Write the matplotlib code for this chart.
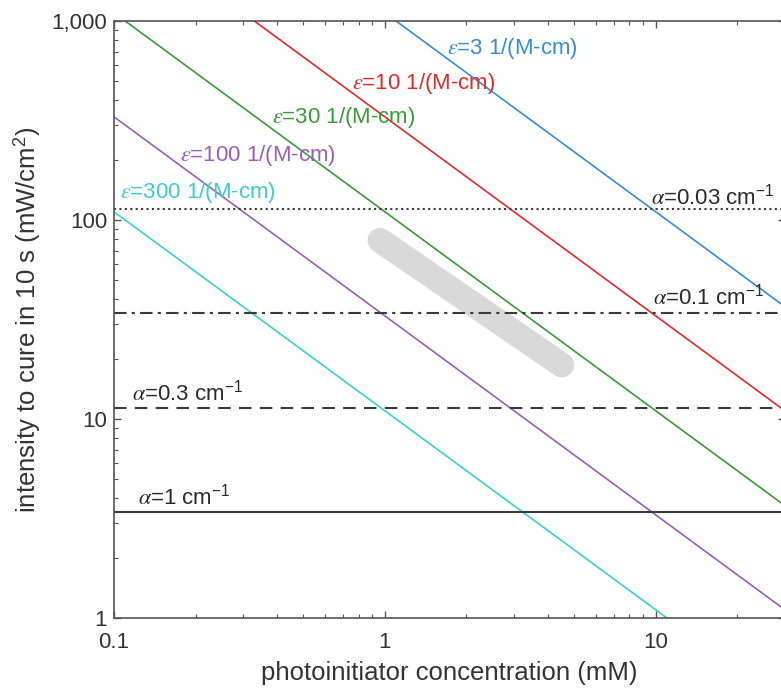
import numpy as np
import matplotlib
matplotlib.use("Agg")
import matplotlib.pyplot as plt
from matplotlib.ticker import FixedLocator, FuncFormatter, LogLocator, NullFormatter

plt.rcParams['font.family'] = ['Liberation Sans', 'DejaVu Sans']
plt.rcParams['mathtext.fontset'] = 'custom'
plt.rcParams['mathtext.rm'] = 'Liberation Sans'
plt.rcParams['mathtext.it'] = 'STIXGeneral:italic'

# diagonal lines: cure intensity at the two ends of the concentration axis
conc_ends = [0.1, 30]
eps_names = ['3', '10', '30', '100', '300']
eps_intensity = [[11000, 36.7], [3300, 11.0], [1100, 3.67], [330, 1.10], [110, 0.367]]
eps_colors = ['#3a8cd2', '#e02a2e', '#3a9a3a', '#9a5fb6', '#3ccfcf']
eps_label_x = [1.69, 0.755, 0.383, 0.175, 0.105]
eps_label_y = [731, 488, 326, 212, 137]

# horizontal lines: absorption coefficient limit
alpha_names = ['0.03', '0.1', '0.3', '1']
alpha_intensity = [113, 34, 11.3, 3.4]
alpha_styles = [(0, (1, 1.6)), (0, (6, 2.5, 1.5, 2.5)), (0, (6, 4)), '-']
alpha_label_x = [9.6, 9.8, 0.1165, 0.1226]
alpha_label_y = [131, 41, 13.5, 4.06]

# grey band (measured range)
band_conc = [0.96, 4.5]
band_intensity = [79, 18.7]

fig = plt.figure(figsize=(7.81, 6.90), dpi=100)
ax = fig.add_axes([0.146, 0.1043, 0.859, 0.8652])
ax.set_xscale('log')
ax.set_yscale('log')
ax.set_xlim(0.1, 30)
ax.set_ylim(1, 1000)

ax.plot(band_conc, band_intensity, color='#d9d9d9', lw=18, solid_capstyle='round', zorder=1)

for name, yy, col, lx, ly in zip(eps_names, eps_intensity, eps_colors, eps_label_x, eps_label_y):
    ax.plot(conc_ends, yy, color=col, lw=1.2, zorder=2)
    ax.text(lx, ly, r'$\epsilon$=' + name + ' 1/(M-cm)', color=col, fontsize=16,
            ha='left', va='center', zorder=3)

for name, yv, ls, lx, ly in zip(alpha_names, alpha_intensity, alpha_styles, alpha_label_x, alpha_label_y):
    ax.plot(conc_ends, [yv, yv], color='#3a3a3a', lw=1.5, linestyle=ls, zorder=2)
    ax.text(lx, ly, r'$\alpha$=' + name + r' cm$^{-1}$', color='#2a2a2a', fontsize=16,
            ha='left', va='center', zorder=3)

ax.xaxis.set_major_locator(FixedLocator([0.1, 1, 10]))
ax.xaxis.set_major_formatter(FuncFormatter(lambda v, p: '%g' % v))
ax.yaxis.set_major_locator(FixedLocator([1, 10, 100, 1000]))
ax.yaxis.set_major_formatter(FuncFormatter(lambda v, p: '{:,.0f}'.format(v)))
ax.xaxis.set_minor_locator(LogLocator(base=10, subs=np.arange(2, 10)))
ax.yaxis.set_minor_locator(LogLocator(base=10, subs=np.arange(2, 10)))
ax.xaxis.set_minor_formatter(NullFormatter())
ax.yaxis.set_minor_formatter(NullFormatter())

ax.tick_params(which='both', direction='in', top=True, right=True, colors='#555555',
               labelcolor='#333333', labelsize=16)
ax.tick_params(which='major', length=5, width=1)
ax.tick_params(which='minor', length=3, width=0.8)
ax.tick_params(axis='x', pad=10)
ax.tick_params(axis='y', pad=5)
for s in ax.spines.values():
    s.set_color('#555555')
    s.set_linewidth(1.2)

ax.set_xlabel('photoinitiator concentration (mM)', fontsize=18.5, color='#333333', labelpad=6)
ax.set_ylabel(r'intensity to cure in 10 s (mW/cm$^{2}$)', fontsize=18.5, color='#333333', labelpad=6)

fig.savefig('out.png', dpi=100)
